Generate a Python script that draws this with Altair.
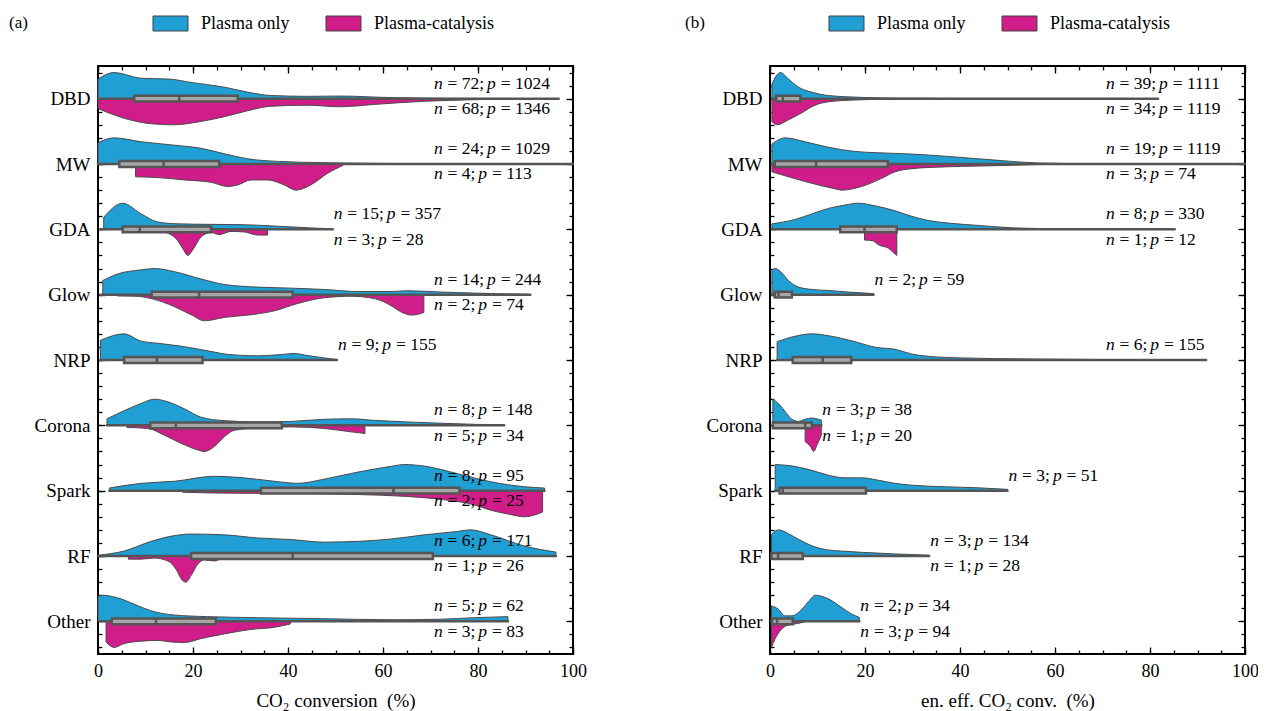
import altair as alt
import pandas as pd

CATS = ["DBD", "MW", "GDA", "Glow", "NRP", "Corona", "Spark", "RF", "Other"]
SERIES = ["Plasma only", "Plasma-catalysis"]
FILLS = ["#1f9fd3", "#d01d8a"]

# ---- panel (a): CO2 conversion, violin profiles (x value, relative half-width) ----
A_ONLY = {
    "DBD": ([0, 3.4, 9.1, 15, 19.6, 26.6, 31.5, 36.4, 44, 51, 61.7, 75.7, 97],
            [0.75, 1.0, 0.78, 0.75, 0.62, 0.44, 0.25, 0.12, 0.09, 0.1, 0.04, 0.01, 0.0]),
    "MW": ([0, 3.4, 9.1, 16.1, 21.7, 26.6, 31.5, 37.8, 47.6, 61.7, 75.7, 100],
           [0.82, 1.0, 0.85, 0.72, 0.6, 0.39, 0.2, 0.1, 0.05, 0.02, 0.01, 0.0]),
    "GDA": ([1.2, 5.2, 9.1, 12.6, 16.8, 23.8, 30.1, 37.8, 44.1, 49.4],
            [0.46, 1.0, 0.59, 0.28, 0.21, 0.19, 0.18, 0.12, 0.06, 0.02]),
    "Glow": ([1, 4.1, 9.1, 11.9, 16.1, 21.7, 26.6, 33.6, 40.6, 47.6, 54.7, 61.7, 65.2, 72.2, 79.2, 86.3, 91],
             [0.54, 0.79, 0.95, 1.0, 0.88, 0.6, 0.39, 0.29, 0.25, 0.2, 0.12, 0.12, 0.15, 0.1, 0.06, 0.03, 0.01]),
    "NRP": ([0.5, 5.5, 9.1, 12.6, 18.2, 23.1, 28, 33.6, 39.2, 41.3, 44.1, 47.6, 50.3],
            [0.75, 1.0, 0.72, 0.64, 0.51, 0.35, 0.2, 0.16, 0.22, 0.25, 0.17, 0.08, 0.02]),
    "Corona": ([1.9, 5.5, 9.1, 11.9, 14.7, 18.2, 21.7, 26.6, 33.6, 40.6, 47.6, 53.3, 58.2, 65.2, 72.2, 79.2, 85.5],
               [0.25, 0.56, 0.84, 1.0, 0.9, 0.63, 0.31, 0.18, 0.13, 0.15, 0.23, 0.25, 0.19, 0.13, 0.08, 0.04, 0.01]),
    "Spark": ([2.4, 9.1, 16.1, 24.5, 30.1, 37.1, 42, 47.6, 54.7, 61.7, 64.5, 68.7, 75.7, 82.7, 89.8, 94],
              [0.1, 0.28, 0.36, 0.55, 0.5, 0.36, 0.28, 0.44, 0.71, 0.93, 1.0, 0.94, 0.65, 0.34, 0.15, 0.1]),
    "RF": ([0, 5.5, 11.2, 16.1, 19.6, 26.6, 33.6, 40.6, 47.6, 54.7, 61.7, 68.7, 75.7, 78.5, 82.7, 89.8, 96.4],
           [0.03, 0.19, 0.56, 0.78, 0.84, 0.81, 0.69, 0.63, 0.53, 0.56, 0.65, 0.81, 0.94, 1.0, 0.81, 0.38, 0.15]),
    "Other": ([0, 0.9, 4.1, 7.7, 11.2, 16.1, 23.1, 33.6, 47.6, 61.7, 72.2, 79.2, 86.3],
              [0.96, 1.0, 0.9, 0.65, 0.4, 0.24, 0.18, 0.14, 0.1, 0.06, 0.08, 0.14, 0.18]),
}
A_CAT = {
    "DBD": ([0, 5.5, 11.2, 16, 21.7, 26.6, 31.5, 36.4, 44, 51, 58.2, 68.7, 79.2, 89.8],
            [0.38, 0.75, 0.96, 1.0, 0.87, 0.69, 0.46, 0.29, 0.25, 0.31, 0.22, 0.1, 0.04, 0.0]),
    "MW": ([7.9, 12.6, 18.2, 23.8, 27.3, 29.4, 32.2, 35.7, 39.2, 41.7, 44.8, 48.3, 51.6],
           [0.49, 0.52, 0.61, 0.7, 0.86, 0.8, 0.61, 0.61, 0.8, 1.0, 0.8, 0.36, 0.05]),
    "GDA": ([12.5, 16.4, 17.8, 18.9, 19.9, 21.7, 23.8, 25.5, 28, 30.8, 33.6, 35.7],
            [0.02, 0.35, 0.72, 1.0, 0.8, 0.29, 0.12, 0.2, 0.08, 0.1, 0.22, 0.22]),
    "Glow": ([4.1, 8, 11.2, 16.1, 19.6, 22.4, 26.6, 32.2, 37.1, 42, 47.6, 53.3, 58.2, 61.7, 64, 66, 68, 68.6],
             [0.05, 0.06, 0.15, 0.46, 0.77, 1.0, 0.87, 0.77, 0.62, 0.34, 0.12, 0.06, 0.15, 0.42, 0.68, 0.78, 0.72, 0.68]),
    "Corona": ([6.1, 10.5, 14, 17.5, 21, 22.4, 24.5, 26.6, 28.7, 33.6, 40.6, 47.6, 53.3, 56.2],
               [0.08, 0.12, 0.38, 0.69, 0.94, 1.0, 0.81, 0.44, 0.19, 0.1, 0.06, 0.12, 0.25, 0.31]),
    "Spark": ([17.8, 24.5, 31.3, 40, 55, 65, 73, 79.2, 82.7, 86.3, 89.8, 93.6],
              [0.06, 0.09, 0.1, 0.1, 0.15, 0.22, 0.35, 0.54, 0.75, 0.89, 1.0, 0.82]),
    "RF": ([6.4, 9.1, 11.9, 14.7, 16.4, 17.8, 18.5, 19.6, 21, 22.4, 24.5, 25.9],
           [0.12, 0.12, 0.08, 0.19, 0.5, 0.94, 1.0, 0.75, 0.31, 0.15, 0.19, 0.1]),
    "Other": ([1.7, 3.4, 5.5, 9.1, 12.6, 15.4, 18.2, 21.7, 26.6, 32.2, 37.1, 40.5],
              [0.79, 1.0, 0.85, 0.76, 0.73, 0.79, 0.81, 0.66, 0.48, 0.31, 0.23, 0.1]),
}
A_LO = [0, 0, 0.5, 0.5, 0.5, 1.9, 2.4, 0, 0.5]
A_Q1 = [7.6, 4.5, 5.2, 11.3, 5.5, 11, 34.3, 19.6, 2.9]
A_MED = [17.1, 13.8, 8.8, 21.3, 12.4, 16.4, 62.2, 41, 12.2]
A_Q3 = [29.4, 25.5, 23.8, 41, 22, 38.7, 76.1, 70.5, 24.8]
A_HI = [97, 100, 49.4, 91, 50.3, 85.5, 94, 96.4, 86.3]
A_N_ONLY = [72, 24, 15, 14, 9, 8, 8, 6, 5]
A_P_ONLY = [1024, 1029, 357, 244, 155, 148, 95, 171, 62]
A_N_CAT = [68, 4, 3, 2, None, 5, 2, 1, 3]
A_P_CAT = [1346, 113, 28, 74, None, 34, 25, 26, 83]

# ---- panel (b): energy-efficient CO2 conversion ----
B_ONLY = {
    "DBD": ([0.4, 2.2, 3.9, 6, 8.8, 12.3, 19.3, 26.3, 40, 60, 81.7],
            [0.56, 1.0, 0.75, 0.44, 0.25, 0.12, 0.05, 0.02, 0.01, 0.005, 0.0]),
    "MW": ([0.4, 3.2, 7.4, 12.3, 17.9, 22.8, 29.8, 36.8, 43.8, 50.8, 56.4, 68.3, 100],
           [0.76, 1.0, 0.85, 0.64, 0.48, 0.43, 0.38, 0.3, 0.2, 0.1, 0.04, 0.01, 0.0]),
    "GDA": ([0.4, 5.3, 8.8, 12.3, 15.8, 18.6, 22.1, 26.3, 29.8, 33.3, 37.5, 43.8, 50.8, 57.8, 85.2],
            [0.21, 0.38, 0.59, 0.8, 0.93, 1.0, 0.9, 0.71, 0.5, 0.34, 0.24, 0.15, 0.06, 0.03, 0.0]),
    "Glow": ([0.4, 1.1, 2.5, 3.9, 6, 8.8, 12.3, 16.5, 21.8],
             [0.95, 1.0, 0.83, 0.54, 0.29, 0.2, 0.16, 0.1, 0.04]),
    "NRP": ([1.5, 5.3, 8.8, 12.3, 17.9, 22.1, 26.3, 29.8, 33.3, 40.3, 54.3, 91.8],
            [0.7, 0.91, 1.0, 0.93, 0.7, 0.49, 0.41, 0.23, 0.14, 0.08, 0.04, 0.0]),
    "Corona": ([0.6, 1.9, 3.3, 4.6, 6, 7.4, 8.8, 10.2, 10.8],
               [1.0, 0.81, 0.5, 0.23, 0.15, 0.23, 0.28, 0.23, 0.2]),
    "Spark": ([1.1, 4, 8.8, 12.3, 15.8, 19.3, 22.8, 26.3, 29.8, 36.8, 43.8, 50],
              [1.0, 0.96, 0.78, 0.59, 0.49, 0.49, 0.4, 0.28, 0.21, 0.15, 0.11, 0.05]),
    "RF": ([0.3, 1.8, 3.9, 6, 8.8, 12.3, 15.8, 19.3, 26.3, 33.5],
           [0.83, 1.0, 0.85, 0.64, 0.39, 0.23, 0.18, 0.14, 0.08, 0.03]),
    "Other": ([0.3, 1.8, 3.1, 4.6, 6.7, 8.5, 9.5, 12.3, 15.1, 17.2, 18.8],
              [0.59, 0.46, 0.21, 0.21, 0.46, 0.84, 1.0, 0.86, 0.53, 0.28, 0.15]),
}
B_CAT = {
    "DBD": ([0.4, 1.5, 3.9, 6.7, 9.5, 12.3, 17.9, 24.9, 29.8],
            [0.88, 1.0, 0.81, 0.54, 0.25, 0.12, 0.05, 0.02, 0.0]),
    "MW": ([0.4, 3.9, 8.8, 13.7, 15.1, 19.3, 23.5, 26.3, 29.8, 36.8, 43.8, 50.8, 56.4],
           [0.3, 0.49, 0.74, 0.95, 1.0, 0.86, 0.55, 0.3, 0.18, 0.11, 0.08, 0.05, 0.02]),
    "GDA": ([19.9, 21.5, 22.9, 25, 26.1, 26.7],
            [0.41, 0.43, 0.6, 0.73, 0.91, 1.0]),
    "Corona": ([7.4, 8.5, 9.2, 9.9, 10.8],
               [0.63, 0.81, 1.0, 0.75, 0.38]),
    "Other": ([0.3, 1.1, 2.2, 3.2, 4.6, 5.8, 7.2],
              [1.0, 0.66, 0.35, 0.19, 0.12, 0.08, 0.03]),
}
B_LO = [0.4, 0.4, 0.4, 0.4, 1.5, 0.6, 1.1, 0.3, 0.3]
B_Q1 = [1.3, 1.0, 14.8, 1.0, 4.8, 0.6, 2.0, 0.3, 0.4]
B_MED = [2.7, 9.7, 19.9, 1.8, 11.1, 7.4, 2.7, 1.7, 1.5]
B_Q3 = [6.4, 24.8, 26.7, 4.6, 17.1, 8.8, 20.2, 6.9, 4.8]
B_HI = [81.7, 100, 85.2, 21.8, 91.8, 10.8, 50, 33.5, 18.8]
B_N_ONLY = [39, 19, 8, 2, 6, 3, 3, 3, 2]
B_P_ONLY = [1111, 1119, 330, 59, 155, 38, 51, 134, 34]
B_N_CAT = [34, 3, 1, None, None, 1, None, 1, 3]
B_P_CAT = [1119, 74, 12, None, None, 20, None, 28, 94]

FONT = "Liberation Serif"
HALF = 0.4      # max half-width of a violin, in category units
BOX_H = 0.045   # half height of the box
LABEL_MAX_X = 70.5
W, H = 475, 588
TXT_FS = 17.5
# Times-compatible advance widths (em) used to lay out "n = ..; p = .." like math text
EM_LETTER, EM_DIGIT, EM_EQ, EM_SEMI, EM_SPACE = 0.5, 0.5, 0.564, 0.278, 0.25
EM_THICK, EM_THIN = 0.278, 0.167


def violin_df(only, cat):
    rows = []
    for series, prof, sign in ((SERIES[0], only, -1), (SERIES[1], cat, 1)):
        for c, (xs, hs) in prof.items():
            i = CATS.index(c)
            for x, h in zip(xs, hs):
                rows.append({"cat": c, "series": series, "x": x,
                             "y": i + sign * HALF * h, "y0": i})
    return pd.DataFrame(rows)


def stats_df(lo, q1, med, q3, hi):
    return pd.DataFrame({
        "cat": CATS, "idx": list(range(len(CATS))),
        "lo": lo, "q1": q1, "med": med, "q3": q3, "hi": hi,
    })


def text_dfs(hi, n_only, p_only, n_cat, p_cat):
    u = TXT_FS / (W / 100.0)   # one em in x-data units
    ital, rom = [], []
    for i, c in enumerate(CATS):
        x0 = min(hi[i], LABEL_MAX_X)
        for n, p, y in ((n_only[i], p_only[i], i - 0.155), (n_cat[i], p_cat[i], i + 0.235)):
            if n is None:
                continue
            o_s1 = EM_LETTER + EM_THICK
            o_p = o_s1 + EM_EQ + EM_SPACE + EM_DIGIT * len(str(n)) + EM_SEMI + EM_THIN
            o_s2 = o_p + EM_LETTER + EM_THICK
            ital.append({"x": x0, "y": y, "t": "n"})
            ital.append({"x": x0 + o_p * u, "y": y, "t": "p"})
            rom.append({"x": x0 + o_s1 * u, "y": y, "t": f"= {n};"})
            rom.append({"x": x0 + o_s2 * u, "y": y, "t": f"= {p}"})
    return pd.DataFrame(ital), pd.DataFrame(rom)


LABEL_EXPR = "[" + ",".join(f"'{c}'" for c in CATS) + "][datum.value]"
X_MAJOR = list(range(0, 101, 20))
X_MINOR = list(range(0, 101, 5))
Y_MAJOR = list(range(len(CATS)))
Y_MINOR = [round(-0.4 + 0.2 * k, 1) for k in range(45)]


def tick_axis(orient, values, size):
    return alt.Axis(orient=orient, values=values, offset=-size, tickSize=size,
                    tickWidth=1.3, tickColor="black", labels=False, domain=False,
                    grid=False, title=None)


def panel(tag, xtitle, only, cat, lo, q1, med, q3, hi, n_only, p_only, n_cat, p_cat,
          legend_x, tag_pad):
    xs = alt.Scale(domain=[0, 100], nice=False, zero=False)
    ys = alt.Scale(domain=[-0.5, 8.5], reverse=True, nice=False, zero=False)

    x_lab = alt.Axis(orient="bottom", values=X_MAJOR, ticks=False, tickSize=0, domain=False,
                     grid=False, labelFont=FONT, labelFontSize=18, labelColor="black",
                     labelPadding=8, labelFlush=False, format="d", title=xtitle,
                     titleFont=FONT, titleFontSize=19, titleFontWeight="normal",
                     titleColor="black", titlePadding=11)
    y_lab = alt.Axis(orient="left", values=Y_MAJOR, labelExpr=LABEL_EXPR, ticks=False,
                     tickSize=0, domain=False, grid=False, labelFont=FONT, labelFontSize=19,
                     labelColor="black", labelPadding=8, labelFlush=False, title=None)

    vdf = violin_df(only, cat)
    sdf = stats_df(lo, q1, med, q3, hi)
    idf, rdf = text_dfs(hi, n_only, p_only, n_cat, p_cat)

    legend = alt.Legend(orient="none", legendX=legend_x, legendY=-52, direction="horizontal",
                        title=tag, titleOrient="left", titleAnchor="middle",
                        titleBaseline="middle", titlePadding=tag_pad, titleFont=FONT,
                        titleFontSize=17, titleFontWeight="normal", titleColor="black",
                        symbolType="M-1.944,-0.833L1.944,-0.833L1.944,0.833L-1.944,0.833Z",
                        symbolSize=324, symbolStrokeColor="#404040", symbolStrokeWidth=1,
                        symbolOpacity=1, labelFont=FONT, labelFontSize=18, labelColor="black",
                        labelOffset=21, columnPadding=34, padding=0, labelLimit=400)

    violins = alt.Chart(vdf).mark_area(
        interpolate="monotone", stroke="#4a4a4a", strokeWidth=1, opacity=1
    ).encode(
        x=alt.X("x:Q", scale=xs, axis=x_lab),
        y=alt.Y("y:Q", scale=ys, axis=y_lab),
        y2="y0:Q",
        color=alt.Color("series:N", scale=alt.Scale(domain=SERIES, range=FILLS), legend=legend),
        detail="cat:N",
    )

    whiskers = alt.Chart(sdf).mark_rule(color="#555555", strokeWidth=2.5, strokeCap="round").encode(
        x=alt.X("lo:Q", scale=xs, axis=tick_axis("bottom", X_MAJOR, 7)),
        x2="hi:Q",
        y=alt.Y("idx:Q", scale=ys, axis=tick_axis("left", Y_MAJOR, 7)),
    )

    boxes = alt.Chart(sdf).transform_calculate(
        ylo=f"datum.idx - {BOX_H}", yhi=f"datum.idx + {BOX_H}"
    ).mark_rect(fill="#a6a6a6", stroke="#555555", strokeWidth=2.5).encode(
        x=alt.X("q1:Q", scale=xs, axis=tick_axis("top", X_MAJOR, 7)),
        x2="q3:Q",
        y=alt.Y("ylo:Q", scale=ys, axis=tick_axis("right", Y_MAJOR, 7)),
        y2="yhi:Q",
    )

    medians = alt.Chart(sdf).transform_calculate(
        ylo=f"datum.idx - {BOX_H}", yhi=f"datum.idx + {BOX_H}"
    ).mark_rule(color="#555555", strokeWidth=2.5).encode(
        x=alt.X("med:Q", scale=xs, axis=tick_axis("bottom", X_MINOR, 4)),
        y=alt.Y("ylo:Q", scale=ys, axis=tick_axis("left", Y_MINOR, 4)),
        y2="yhi:Q",
    )

    texts_it = alt.Chart(idf).mark_text(
        align="left", baseline="alphabetic", font=FONT, fontSize=TXT_FS, fontStyle="italic",
        color="black", dx=1
    ).encode(
        x=alt.X("x:Q", scale=xs, axis=tick_axis("top", X_MINOR, 4)),
        y=alt.Y("y:Q", scale=ys, axis=tick_axis("right", Y_MINOR, 4)),
        text="t:N",
    )

    texts_rm = alt.Chart(rdf).mark_text(
        align="left", baseline="alphabetic", font=FONT, fontSize=TXT_FS, color="black", dx=1
    ).encode(
        x=alt.X("x:Q", scale=xs, axis=None),
        y=alt.Y("y:Q", scale=ys, axis=None),
        text="t:N",
    )

    return alt.layer(violins, whiskers, boxes, medians, texts_it, texts_rm).resolve_axis(
        x="independent", y="independent"
    ).properties(width=W, height=H)


pa = panel("(a)", "CO₂ conversion\u00a0 (%)", A_ONLY, A_CAT, A_LO, A_Q1, A_MED, A_Q3, A_HI,
           A_N_ONLY, A_P_ONLY, A_N_CAT, A_P_CAT, -89, 133)
pb = panel("(b)", "en. eff. CO₂ conv.\u00a0 (%)", B_ONLY, B_CAT, B_LO, B_Q1, B_MED, B_Q3, B_HI,
           B_N_ONLY, B_P_ONLY, B_N_CAT, B_P_CAT, -85, 132)

chart = alt.hconcat(pa, pb, spacing=96).resolve_legend(color="independent").properties(
    padding={"left": 0, "top": 5, "right": -2, "bottom": 0}
).configure_view(stroke="black", strokeWidth=2)

chart.save("out.html", embed_options={"renderer": "svg", "actions": False})
